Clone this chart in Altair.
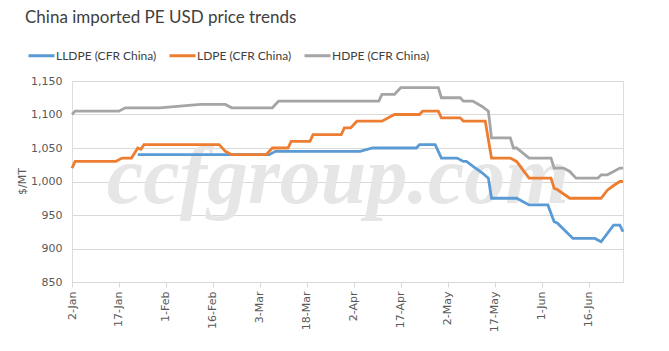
import altair as alt
import pandas as pd

# ---- data ----
series_names = ["LLDPE (CFR China)", "LDPE (CFR China)", "HDPE (CFR China)"]
series_colors = ["#5B9BD5", "#ED7D31", "#A5A5A5"]

lldpe_dates = ["01-23", "03-06", "03-08", "04-04", "04-08", "04-22", "04-23", "04-28",
               "04-30", "05-05", "05-07", "05-08", "05-10", "05-13", "05-15", "05-16",
               "05-24", "05-28", "06-03", "06-05", "06-06", "06-11", "06-18", "06-20",
               "06-24", "06-26", "06-27"]
lldpe_values = [1040, 1040, 1045, 1045, 1050, 1050, 1055, 1055,
                1035, 1035, 1030, 1030, 1023, 1013, 1005, 975,
                975, 965, 965, 940, 938, 915, 915, 910,
                935, 935, 925]

ldpe_dates = ["01-02", "01-03", "01-16", "01-18", "01-21", "01-23", "01-24", "01-25",
              "02-18", "02-20", "02-22", "03-05", "03-07", "03-12", "03-13", "03-19",
              "03-20", "03-29", "03-30", "04-01", "04-03", "04-11", "04-15", "04-23",
              "04-24", "04-29", "04-30", "05-06", "05-07", "05-14", "05-16", "05-22",
              "05-24", "05-28", "06-04", "06-05", "06-06", "06-10", "06-20", "06-22",
              "06-24", "06-26", "06-27"]
ldpe_values = [1020, 1030, 1030, 1035, 1035, 1050, 1048, 1055,
               1055, 1045, 1040, 1040, 1050, 1050, 1060, 1060,
               1070, 1070, 1080, 1080, 1090, 1090, 1100, 1100,
               1105, 1105, 1095, 1095, 1090, 1090, 1035, 1035,
               1030, 1005, 1005, 990, 988, 975, 975, 987,
               994, 1000, 1000]

hdpe_dates = ["01-02", "01-03", "01-17", "01-19", "01-30", "02-12", "02-20", "02-22",
              "03-07", "03-09", "04-10", "04-11", "04-15", "04-17", "04-29", "04-30",
              "05-06", "05-07", "05-10", "05-13", "05-15", "05-16", "05-22", "05-23",
              "05-24", "05-28", "06-04", "06-05", "06-08", "06-10", "06-12", "06-19",
              "06-20", "06-22", "06-24", "06-26", "06-27"]
hdpe_values = [1100, 1105, 1105, 1110, 1110, 1115, 1115, 1110,
               1110, 1120, 1120, 1130, 1130, 1140, 1140, 1125,
               1125, 1120, 1120, 1112, 1105, 1065, 1065, 1050,
               1050, 1035, 1035, 1020, 1020, 1015, 1005, 1005,
               1010, 1010, 1015, 1020, 1020]

year = "2019"
tick_dates = ["01-02", "01-17", "02-01", "02-16", "03-03", "03-18", "04-02",
              "04-17", "05-02", "05-17", "06-01", "06-16"]
y_ticks = [850, 900, 950, 1000, 1050, 1100, 1150]

rows = []
for name, ds, vs in zip(series_names, [lldpe_dates, ldpe_dates, hdpe_dates],
                        [lldpe_values, ldpe_values, hdpe_values]):
    for d, v in zip(ds, vs):
        rows.append({"series": name, "date": f"{year}-{d}", "price": v})
df = pd.DataFrame(rows)
df["order"] = df["series"].map({n: i for i, n in enumerate(series_names)})


def dt(md):
    m, d = md.split("-")
    return alt.DateTime(year=int(year), month=int(m), date=int(d), utc=True)


x_scale = alt.Scale(type="utc", domain=[dt("01-02"), dt("06-27")])

lines = alt.Chart(df).mark_line(strokeWidth=2.8, interpolate="linear").encode(
    x=alt.X("date:T", scale=x_scale,
            axis=alt.Axis(values=[dt(t) for t in tick_dates], format="%-d-%b",
                          labelAngle=270, grid=False, title=None,
                          domainColor="#D9D9D9", tickColor="#D9D9D9", tickSize=5,
                          labelPadding=4, labelFont="DejaVu Sans", labelFontSize=11,
                          labelColor="#595959")),
    y=alt.Y("price:Q", scale=alt.Scale(domain=[850, 1150], nice=False, zero=False),
            axis=alt.Axis(values=y_ticks, format=",d", grid=True, gridColor="#D9D9D9",
                          domain=False, ticks=False, labelPadding=10,
                          labelFont="DejaVu Sans", labelFontSize=11, labelColor="#595959",
                          title="$/MT", titleFont="DejaVu Sans", titleFontSize=11,
                          titleFontWeight="normal", titleColor="#595959",
                          titleAngle=270, titleX=-50, titleY=100,
                          titleAlign="center", titleBaseline="middle")),
    color=alt.Color("series:N", scale=alt.Scale(domain=series_names, range=series_colors),
                    legend=alt.Legend(title=None, orient="none", legendX=-45, legendY=-40,
                                      direction="horizontal", symbolType="stroke",
                                      symbolSize=676, symbolStrokeWidth=3,
                                      labelFont="Lato", labelFontSize=12,
                                      labelColor="#404040", labelOffset=0,
                                      columnPadding=6, padding=0, gridAlign="each")),
    detail="series:N",
    order="order:Q",
)

wm_df = pd.DataFrame({"t": ["ccfgroup.com"]})
watermark = alt.Chart(wm_df).mark_text(
    font="Liberation Serif", fontStyle="italic", fontWeight="bold", fontSize=82,
    color="#E6E6E6", align="center", baseline="alphabetic"
).encode(text="t:N", x=alt.value(266), y=alt.value(122))

chart = alt.layer(watermark, lines).properties(
    width=551, height=201,
    padding={"left": 72, "top": 81, "right": 46, "bottom": 69},
    autosize="none",
    title=alt.TitleParams("China imported PE USD price trends", anchor="start",
                          frame="group", dx=-47, dy=-10, font="Lato", fontSize=17,
                          fontWeight="normal", color="#404040"),
).configure_view(stroke=None).configure(background="white")

chart.save("out.html", embed_options={"renderer": "svg", "actions": False})
